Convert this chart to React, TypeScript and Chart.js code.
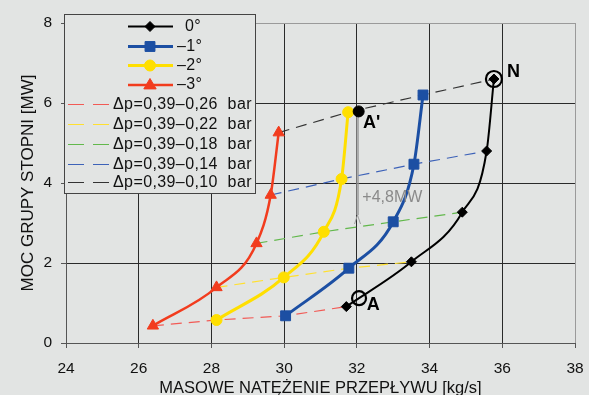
import React, { useEffect, useRef } from 'react';
import { Chart, registerables } from 'chart.js';

Chart.register(...registerables);

// ---- data ----
const xTicks = [24, 26, 28, 30, 32, 34, 36, 38];
const yTicks = [0, 2, 4, 6, 8];

// 0°
const mass0 = [31.71, 33.5, 34.9, 35.57, 35.77];
const power0 = [0.91, 2.03, 3.27, 4.8, 6.6];
// -1°
const mass1 = [30.04, 31.78, 33.0, 33.57, 33.82];
const power1 = [0.68, 1.87, 3.03, 4.47, 6.2];
// -2°
const mass2 = [28.14, 29.99, 31.09, 31.58, 31.76];
const power2 = [0.575, 1.64, 2.78, 4.1, 5.77];
// -3°
const mass3 = [26.39, 28.14, 29.24, 29.63, 29.85];
const power3 = [0.43, 1.39, 2.49, 3.7, 5.26];

// Δp lines
const dp026x = [26.39, 28.14, 30.04, 31.71];
const dp026y = [0.43, 0.575, 0.68, 0.91];
const dp022x = [28.14, 29.99, 31.78, 33.5];
const dp022y = [1.39, 1.64, 1.87, 2.03];
const dp018x = [29.24, 31.09, 33.0, 34.9];
const dp018y = [2.49, 2.78, 3.03, 3.27];
const dp014x = [29.63, 31.58, 33.57, 35.57];
const dp014y = [3.7, 4.1, 4.47, 4.8];
const dp010x = [29.85, 31.76, 33.82, 35.77];
const dp010y = [5.26, 5.77, 6.2, 6.6];

// special points
const pointAx = [32.06];
const pointAy = [1.12];
const pointNx = [35.77];
const pointNy = [6.6];
const pointA1x = [32.05];
const pointA1y = [5.79];

// annotation texts
const labelTexts = ['A', "A'", 'N'];
const labelX = [32.27, 32.17, 36.13];
const labelY = [0.95, 5.5, 6.78];
const deltaText = '+4,8MW';
const deltaX = 32.15;
const deltaY = 3.63;
const arrowX = 32.0;
const arrowTopY = 5.65;
const arrowBottomY = 3.2;

const seriesLabels = ['0°', '–1°', '–2°', '–3°'];
const dpLabels = [
  'Δp=0,39–0,26  bar',
  'Δp=0,39–0,22  bar',
  'Δp=0,39–0,18  bar',
  'Δp=0,39–0,14  bar',
  'Δp=0,39–0,10  bar',
];

const BG = '#e2e4e3';
const FONT = "'Liberation Sans', Arial, sans-serif";
const mainColors = ['#000000', '#1c4fa3', '#ffdf00', '#f23c1e'];
const mainStyles = ['rectRot', 'rect', 'circle', 'triangle'];
const mainRadius = [5, 7, 5.5, 6.5];
const mainWidths = [2, 3, 3, 2.5];
const dpColors = ['#f25a55', '#ffe030', '#62b84c', '#3d62b8', '#333333'];

const zip = (xs: number[], ys: number[]) => xs.map((v, i) => ({ x: v, y: ys[i] }));

const bgPlugin = {
  id: 'bg',
  beforeDraw(chart: any) {
    const { ctx, width, height } = chart;
    ctx.save();
    ctx.fillStyle = BG;
    ctx.fillRect(0, 0, width, height);
    ctx.restore();
  },
};

function drawPointShape(ctx: CanvasRenderingContext2D, style: string, x: number, y: number, r: number) {
  ctx.beginPath();
  if (style === 'rectRot') {
    ctx.moveTo(x, y - r);
    ctx.lineTo(x + r, y);
    ctx.lineTo(x, y + r);
    ctx.lineTo(x - r, y);
    ctx.closePath();
  } else if (style === 'rect') {
    const s = Math.SQRT1_2 * r;
    ctx.rect(x - s, y - s, 2 * s, 2 * s);
  } else if (style === 'circle') {
    ctx.arc(x, y, r, 0, Math.PI * 2);
  } else {
    const half = r * 0.95;
    ctx.moveTo(x, y - r);
    ctx.lineTo(x + half, y + r * 0.6);
    ctx.lineTo(x - half, y + r * 0.6);
    ctx.closePath();
  }
  ctx.fill();
  ctx.stroke();
}

const legendPlugin = {
  id: 'customLegend',
  beforeDatasetsDraw(chart: any) {
    const { ctx, scales } = chart;
    const xs = scales.x;
    const ys = scales.y;
    // gray arrow A -> A'
    ctx.save();
    const ax = Math.round(xs.getPixelForValue(arrowX)) + 0.5;
    const at = ys.getPixelForValue(arrowTopY);
    const ab = ys.getPixelForValue(arrowBottomY);
    ctx.strokeStyle = 'rgba(150,150,150,0.7)';
    ctx.lineWidth = 3;
    ctx.beginPath();
    ctx.moveTo(ax, at);
    ctx.lineTo(ax, ab);
    ctx.stroke();
    ctx.lineWidth = 1;
    ctx.strokeStyle = '#a0a0a0';
    ctx.beginPath();
    ctx.moveTo(ax - 3, ab + 9);
    ctx.lineTo(ax, ab);
    ctx.lineTo(ax + 3, ab + 9);
    ctx.stroke();
    ctx.restore();

    // legend box
    const left = 64, top = 14, w = 191, h = 179;
    ctx.save();
    ctx.fillStyle = BG;
    ctx.fillRect(left, top, w, h);
    ctx.strokeStyle = '#444';
    ctx.lineWidth = 1;
    ctx.strokeRect(left + 0.5, top + 0.5, w, h);

    const rowY = [26.5, 46.5, 65.5, 85, 103.5, 123.5, 143.5, 163.5, 182];
    ctx.font = `16px ${FONT}`;
    try {
      (ctx as any).letterSpacing = '0.4px';
    } catch (e) {}
    ctx.textBaseline = 'middle';
    for (let i = 0; i < 4; i++) {
      const yy = rowY[i];
      ctx.strokeStyle = mainColors[i];
      ctx.lineWidth = mainWidths[i];
      ctx.beginPath();
      ctx.moveTo(128, yy);
      ctx.lineTo(173, yy);
      ctx.stroke();
      ctx.fillStyle = mainColors[i];
      ctx.strokeStyle = mainColors[i];
      ctx.lineWidth = 1;
      drawPointShape(ctx, mainStyles[i], 150, yy, mainRadius[i]);
      ctx.fillStyle = '#111';
      ctx.textAlign = 'left';
      ctx.fillText(seriesLabels[i], i === 0 ? 185 : 177, yy);
    }
    for (let i = 0; i < 5; i++) {
      const yy = Math.round(rowY[4 + i]) + 0.5;
      ctx.strokeStyle = dpColors[i];
      ctx.lineWidth = 1.2;
      ctx.beginPath();
      ctx.moveTo(68, yy);
      ctx.lineTo(84, yy);
      ctx.moveTo(93, yy);
      ctx.lineTo(109, yy);
      ctx.stroke();
      ctx.fillStyle = '#111';
      ctx.textAlign = 'left';
      ctx.fillText(dpLabels[i], 113, yy + 0.5);
    }
    ctx.restore();
  },
  afterDatasetsDraw(chart: any) {
    const { ctx, scales } = chart;
    const xs = scales.x;
    const ys = scales.y;
    ctx.save();
    ctx.textBaseline = 'middle';
    ctx.textAlign = 'left';
    ctx.font = `bold 18px ${FONT}`;
    ctx.fillStyle = '#000';
    labelTexts.forEach((t, i) => {
      ctx.fillText(t, xs.getPixelForValue(labelX[i]), ys.getPixelForValue(labelY[i]));
    });
    ctx.font = `16px ${FONT}`;
    ctx.fillStyle = '#8a8a8a';
    ctx.fillText(deltaText, xs.getPixelForValue(deltaX), ys.getPixelForValue(deltaY));
    ctx.restore();
  },
};

export default function App() {
  const ref = useRef<HTMLCanvasElement | null>(null);

  useEffect(() => {
    document.body.style.margin = '0';
    document.body.style.background = BG;
    const canvas = ref.current;
    if (!canvas) return;

    const mains = [
      [mass0, power0],
      [mass1, power1],
      [mass2, power2],
      [mass3, power3],
    ].map(([xs, ys], i) => ({
      label: seriesLabels[i],
      data: zip(xs, ys),
      borderColor: mainColors[i],
      backgroundColor: mainColors[i],
      borderWidth: mainWidths[i],
      pointStyle: mainStyles[i],
      pointRadius: mainRadius[i],
      pointBorderWidth: 1,
      pointBorderColor: mainColors[i],
      pointBackgroundColor: mainColors[i],
      cubicInterpolationMode: 'monotone' as const,
      fill: false,
      order: 1,
    }));

    const dps = [
      [dp026x, dp026y],
      [dp022x, dp022y],
      [dp018x, dp018y],
      [dp014x, dp014y],
      [dp010x, dp010y],
    ].map(([xs, ys], i) => ({
      label: dpLabels[i],
      data: zip(xs, ys),
      borderColor: dpColors[i],
      borderWidth: 1.2,
      borderDash: [11, 7],
      pointRadius: 0,
      tension: 0,
      fill: false,
      order: 2,
    }));

    const specials = [
      {
        label: 'A',
        data: zip(pointAx, pointAy),
        showLine: false,
        pointRadius: 7,
        pointBorderWidth: 2.2,
        pointBorderColor: '#000',
        pointBackgroundColor: 'rgba(0,0,0,0)',
        order: 0,
      },
      {
        label: 'N',
        data: zip(pointNx, pointNy),
        showLine: false,
        pointRadius: 8,
        pointBorderWidth: 2.2,
        pointBorderColor: '#000',
        pointBackgroundColor: 'rgba(0,0,0,0)',
        order: 0,
      },
      {
        label: "A'",
        data: zip(pointA1x, pointA1y),
        showLine: false,
        pointRadius: 5.5,
        pointBorderWidth: 1,
        pointBorderColor: '#000',
        pointBackgroundColor: '#000',
        order: 0,
      },
    ];

    const chart = new Chart(canvas, {
      type: 'line',
      data: { datasets: [...specials, ...mains, ...dps] as any },
      options: {
        animation: false,
        responsive: false,
        maintainAspectRatio: false,
        layout: { padding: { top: 23, right: 14, left: 0, bottom: 0 } },
        plugins: { legend: { display: false }, tooltip: { enabled: false } },
        scales: {
          x: {
            type: 'linear',
            min: 24,
            max: 38,
            afterBuildTicks: (s: any) => {
              s.ticks = xTicks.map((v) => ({ value: v }));
            },
            afterFit: (s: any) => {
              s.height = 52;
              s.paddingLeft = 0;
              s.paddingRight = 0;
            },
            grid: {
              color: (c: any) => (c.tick && c.tick.value === 38 ? '#9a9a9a' : '#2a2a2a'),
              lineWidth: 1,
              drawTicks: true,
              tickLength: 5,
              tickColor: '#555',
            },
            border: { display: true, color: '#555', width: 1 },
            ticks: {
              font: { family: FONT, size: 15.5 },
              color: '#111',
              padding: 11,
              maxRotation: 0,
              callback: (v: any) => String(v),
            },
            title: {
              display: true,
              text: 'MASOWE NATĘŻENIE PRZEPŁYWU [kg/s]',
              font: { family: FONT, size: 16.5, lineHeight: 1 },
              color: '#111',
              padding: { top: 0, bottom: -2 },
            },
          },
          y: {
            type: 'linear',
            min: 0,
            max: 8,
            afterBuildTicks: (s: any) => {
              s.ticks = yTicks.map((v) => ({ value: v }));
            },
            afterFit: (s: any) => {
              s.width = 66;
            },
            grid: {
              color: (c: any) => (c.tick && c.tick.value === 8 ? '#9a9a9a' : '#2a2a2a'),
              lineWidth: 1,
              drawTicks: true,
              tickLength: 5,
              tickColor: '#555',
            },
            border: { display: true, color: '#555', width: 1 },
            ticks: {
              font: { family: FONT, size: 15.5 },
              color: '#111',
              padding: 9,
              callback: (v: any) => String(v),
            },
            title: {
              display: true,
              text: 'MOC GRUPY STOPNI [MW]',
              font: { family: FONT, size: 17, lineHeight: 1.2 },
              color: '#111',
              padding: { top: 18, bottom: 0 },
            },
          },
        },
      },
      plugins: [bgPlugin, legendPlugin],
    });

    return () => chart.destroy();
  }, []);

  return (
    <div style={{ width: 589, height: 395 }}>
      <canvas ref={ref} width={589} height={395} style={{ display: 'block', width: 589, height: 395 }} />
    </div>
  );
}
